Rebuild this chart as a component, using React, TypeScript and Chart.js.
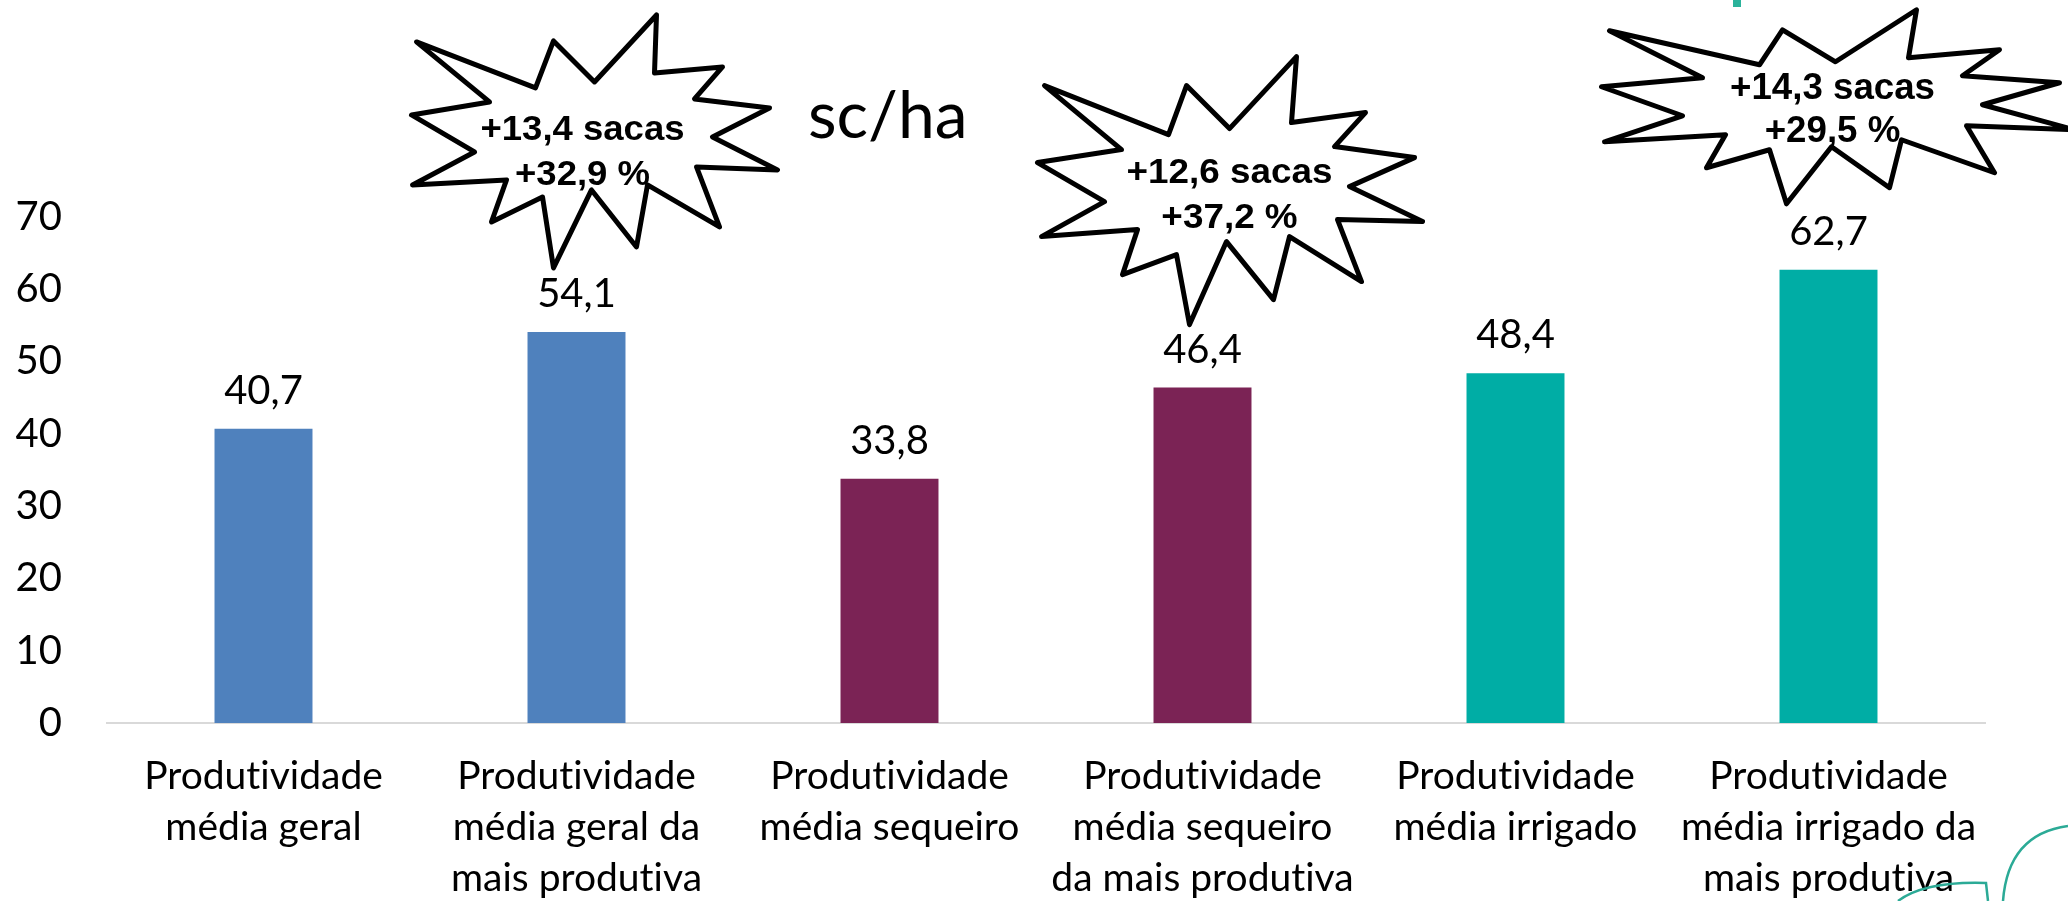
import React, { useEffect, useRef } from 'react';
import { Chart, registerables } from 'chart.js';

Chart.register(...registerables);

// ---------- data ----------
const categories: string[][] = [
  ['Produtividade', 'média geral'],
  ['Produtividade', 'média geral da', 'mais produtiva'],
  ['Produtividade', 'média sequeiro'],
  ['Produtividade', 'média sequeiro', 'da mais produtiva'],
  ['Produtividade', 'média irrigado'],
  ['Produtividade', 'média irrigado da', 'mais produtiva'],
];
const values: number[] = [40.7, 54.1, 33.8, 46.4, 48.4, 62.7];
const yTickValues: number[] = [0, 10, 20, 30, 40, 50, 60, 70];
const unitLabel = 'sc/ha';
const calloutBarIndex: number[] = [1, 3, 5];
const calloutTexts: string[][] = [
  ['+13,4 sacas', '+32,9 %'],
  ['+12,6 sacas', '+37,2 %'],
  ['+14,3 sacas', '+29,5 %'],
];

// ---------- styles ----------
const BAR_COLORS = ['#4F81BD', '#4F81BD', '#7B2355', '#7B2355', '#00ADA5', '#00ADA5'];
const FONT = 'Lato';
const STAR_FONT = '"Liberation Sans", Arial, sans-serif';

type StarShape = { dx: number; dy: number; size: number; textW: number; lines: number[]; pts: number[][] };
const STARS: StarShape[] = [
  {
    dx: 6, dy: -182, size: 35, textW: 204, lines: [-10, 35],
    pts: [[-166,-108],[-47,-62],[-29,-109],[12,-68],[74,-135],[72,-77],[140,-83],[112,-51],[187,-42],[130,-13],[195,20],[114,17],[137,77],[65,35],[54,97],[9,40],[-29,118],[-40,47],[-91,72],[-76,30],[-170,35],[-108,2],[-171,-35],[-93,-48]],
  },
  {
    dx: 27, dy: -194, size: 35, textW: 206, lines: [-11, 34],
    pts: [[-185,-108],[-61,-59],[-43,-108],[0,-65],[67,-137],[62,-71],[136,-81],[105,-47],[185,-36],[120,-7],[193,28],[108,26],[132,88],[60,43],[44,106],[-3,48],[-40,131],[-53,61],[-107,81],[-92,36],[-188,43],[-125,8],[-192,-31],[-108,-44]],
  },
  {
    dx: 4, dy: -161, size: 36, textW: 205, lines: [-10, 33],
    pts: [[-223,-78],[-73,-44],[-50,-79],[3,-47],[84,-99],[76,-51],[167,-59],[130,-33],[227,-26],[150,-4],[242,21],[134,17],[162,64],[69,31],[57,79],[-1,38],[-46,95],[-63,41],[-126,59],[-107,26],[-228,33],[-150,7],[-231,-22],[-130,-31]],
  },
];

const fmt = (v: number) => v.toFixed(1).replace('.', ',');

const overlayPlugin = {
  id: 'overlay',
  beforeDraw(chart: any) {
    const ctx: any = chart.ctx;
    try {
      ctx.textRendering = 'optimizeSpeed';
    } catch (e) {
      /* ignore */
    }
  },
  afterDatasetsDraw(chart: any) {
    const ctx: CanvasRenderingContext2D = chart.ctx;
    const meta = chart.getDatasetMeta(0);

    // value labels
    ctx.save();
    ctx.font = `40px ${FONT}`;
    ctx.fillStyle = '#000';
    ctx.textAlign = 'center';
    ctx.textBaseline = 'alphabetic';
    meta.data.forEach((bar: any, i: number) => {
      ctx.fillText(fmt(values[i]), bar.x, bar.y - 25);
    });
    ctx.restore();

    // unit label
    ctx.save();
    ctx.font = `66px ${FONT}`;
    ctx.fillStyle = '#000';
    ctx.textAlign = 'left';
    ctx.textBaseline = 'alphabetic';
    ctx.fillText(unitLabel, 808, 138);
    ctx.restore();

    // callout stars
    calloutBarIndex.forEach((bi, k) => {
      const bar = meta.data[bi];
      const s = STARS[k];
      const ax = bar.x + s.dx;
      const ay = bar.y + s.dy;
      ctx.save();
      ctx.beginPath();
      s.pts.forEach(([px, py], j) => {
        if (j === 0) ctx.moveTo(ax + px, ay + py);
        else ctx.lineTo(ax + px, ay + py);
      });
      ctx.closePath();
      ctx.fillStyle = '#fff';
      ctx.fill();
      ctx.lineWidth = 5;
      ctx.lineJoin = 'round';
      ctx.strokeStyle = '#000';
      ctx.stroke();

      ctx.font = `bold ${s.size}px ${STAR_FONT}`;
      ctx.fillStyle = '#000';
      ctx.textAlign = 'center';
      ctx.textBaseline = 'alphabetic';
      const w = ctx.measureText(calloutTexts[k][0]).width;
      const sx = s.textW / w;
      calloutTexts[k].forEach((line, li) => {
        ctx.save();
        ctx.translate(ax, ay + s.lines[li]);
        ctx.scale(sx, 1);
        ctx.fillText(line, 0, 0);
        ctx.restore();
      });
      ctx.restore();
    });
  },
  afterDraw(chart: any) {
    const ctx: CanvasRenderingContext2D = chart.ctx;
    ctx.save();
    // slide decorations
    ctx.fillStyle = '#2BB39B';
    ctx.fillRect(1733, 0, 8, 7);
    ctx.strokeStyle = '#2BAA96';
    ctx.lineWidth = 2.5;
    ctx.beginPath();
    ctx.moveTo(2003, 901);
    ctx.quadraticCurveTo(2008, 834, 2068, 826);
    ctx.stroke();
    ctx.beginPath();
    ctx.moveTo(1898, 901);
    ctx.quadraticCurveTo(1925, 881, 1986, 883);
    ctx.lineTo(1988, 901);
    ctx.stroke();
    ctx.restore();
  },
};

export default function App() {
  const canvasRef = useRef<HTMLCanvasElement | null>(null);

  useEffect(() => {
    document.body.style.margin = '0';
    document.body.style.overflow = 'hidden';
    let chart: Chart | null = null;
    let cancelled = false;

    const build = () => {
      if (cancelled || !canvasRef.current) return;
      chart = new Chart(canvasRef.current, {
        type: 'bar',
        data: {
          labels: categories,
          datasets: [
            {
              data: values,
              backgroundColor: BAR_COLORS,
              borderWidth: 0,
              barPercentage: 0.313,
              categoryPercentage: 1,
            },
          ],
        },
        options: {
          animation: false,
          responsive: false,
          maintainAspectRatio: false,
          devicePixelRatio: 1,
          layout: { padding: { left: 0, right: 83, top: 217, bottom: 0 } },
          plugins: {
            legend: { display: false },
            title: { display: false },
            tooltip: { enabled: false },
          },
          scales: {
            x: {
              grid: { display: false, drawTicks: false },
              border: { display: true, color: '#D9D9D9', width: 2 },
              ticks: {
                color: '#000',
                padding: 28,
                autoSkip: false,
                maxRotation: 0,
                font: { family: FONT, size: 39, lineHeight: 1.31 },
              },
              afterFit: (scale: any) => {
                scale.height = 178;
              },
            },
            y: {
              min: 0,
              max: 70,
              grid: { display: false, drawTicks: false },
              border: { display: false },
              ticks: {
                color: '#000',
                padding: 45,
                font: { family: FONT, size: 40 },
              },
              afterBuildTicks: (scale: any) => {
                scale.ticks = yTickValues.map((v) => ({ value: v }));
              },
              afterFit: (scale: any) => {
                scale.width = 107;
              },
            },
          },
        },
        plugins: [overlayPlugin],
      });
    };

    const fontsReady = (document as any).fonts
      ? Promise.all([
          (document as any).fonts.load(`40px ${FONT}`),
          (document as any).fonts.load(`bold 30px "Liberation Sans"`),
        ]).catch(() => null)
      : Promise.resolve(null);
    fontsReady.then(build);

    return () => {
      cancelled = true;
      if (chart) chart.destroy();
    };
  }, []);

  return (
    <div style={{ position: 'absolute', left: 0, top: 0, width: 2068, height: 901, background: '#fff' }}>
      <canvas ref={canvasRef} width={2068} height={901} style={{ display: 'block' }} />
    </div>
  );
}
